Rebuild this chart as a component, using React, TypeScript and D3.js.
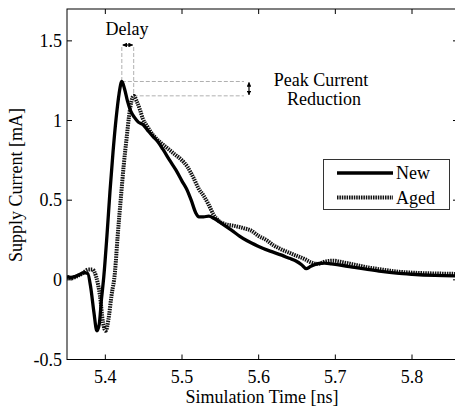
import React from 'react';
import * as d3 from 'd3';

// Time [ns] and supply current [mA]
const newTime = [5.35, 5.355, 5.36, 5.365, 5.372, 5.377, 5.381, 5.385, 5.389, 5.392, 5.395, 5.398, 5.402, 5.406, 5.41, 5.414, 5.418, 5.4215, 5.425, 5.429, 5.433, 5.438, 5.443, 5.449, 5.455, 5.462, 5.468, 5.475, 5.484, 5.492, 5.5, 5.506, 5.512, 5.518, 5.522, 5.528, 5.535, 5.542, 5.553, 5.565, 5.575, 5.585, 5.6, 5.615, 5.63, 5.64, 5.648, 5.656, 5.662, 5.668, 5.676, 5.686, 5.695, 5.71, 5.725, 5.74, 5.76, 5.78, 5.8, 5.83, 5.86];
const newCurrent = [0.02, 0.015, 0.02, 0.03, 0.045, 0.04, -0.05, -0.2, -0.32, -0.28, -0.12, 0.02, 0.27, 0.55, 0.8, 1.01, 1.17, 1.245, 1.2, 1.12, 1.06, 1.02, 0.99, 0.975, 0.94, 0.9, 0.87, 0.82, 0.75, 0.69, 0.62, 0.57, 0.5, 0.42, 0.395, 0.395, 0.4, 0.385, 0.35, 0.31, 0.275, 0.245, 0.21, 0.18, 0.155, 0.135, 0.12, 0.095, 0.07, 0.085, 0.1, 0.105, 0.1, 0.09, 0.078, 0.067, 0.053, 0.042, 0.035, 0.028, 0.025];

const agedTime = [5.35, 5.356, 5.362, 5.37, 5.378, 5.383, 5.388, 5.393, 5.397, 5.4005, 5.404, 5.408, 5.4126, 5.416, 5.42, 5.424, 5.428, 5.431, 5.434, 5.437, 5.441, 5.445, 5.449, 5.455, 5.462, 5.47, 5.48, 5.49, 5.5, 5.507, 5.515, 5.522, 5.528, 5.535, 5.541, 5.548, 5.556, 5.567, 5.58, 5.59, 5.6, 5.61, 5.62, 5.63, 5.64, 5.65, 5.66, 5.668, 5.677, 5.687, 5.697, 5.71, 5.725, 5.74, 5.76, 5.78, 5.8, 5.83, 5.86];
const agedCurrent = [0.02, 0.01, 0.02, 0.04, 0.065, 0.065, 0.02, -0.1, -0.27, -0.32, -0.25, -0.1, 0.05, 0.27, 0.5, 0.72, 0.9, 1.03, 1.12, 1.155, 1.12, 1.07, 1.01, 0.96, 0.91, 0.87, 0.83, 0.79, 0.75, 0.71, 0.64, 0.57, 0.53, 0.47, 0.41, 0.37, 0.35, 0.34, 0.325, 0.31, 0.275, 0.25, 0.215, 0.19, 0.17, 0.15, 0.13, 0.11, 0.1, 0.115, 0.12, 0.11, 0.095, 0.08, 0.065, 0.052, 0.045, 0.04, 0.037];

const xTicks = [5.4, 5.5, 5.6, 5.7, 5.8];
const yTicks = [-0.5, 0, 0.5, 1, 1.5];
const yTickLabels = ['-0.5', '0', '0.5', '1', '1.5'];
const legendLabels = ['New', 'Aged'];

// peaks used by the annotations
const newPeak = { t: 5.4215, v: 1.245 };
const agedPeak = { t: 5.437, v: 1.155 };

const W = 455;
const H = 409;
const margin = { left: 67, top: 9, right: 458, bottom: 359.5 };
const FONT = '"Liberation Serif", "Times New Roman", serif';
const FS = 18;

export default function App() {
    const x = d3.scaleLinear().domain([5.35, 5.86]).range([margin.left, margin.right]);
    const y = d3.scaleLinear().domain([-0.5, 1.7]).range([margin.bottom, margin.top]);

    const line = d3.line<[number, number]>()
        .x(d => x(d[0]))
        .y(d => y(d[1]))
        .curve(d3.curveMonotoneX);

    const newPts = newTime.map((t, i) => [t, newCurrent[i]] as [number, number]);
    const agedPts = agedTime.map((t, i) => [t, agedCurrent[i]] as [number, number]);

    const tickLen = 5;
    const annotTop = 47;
    const annotRight = 244;
    const nx = x(newPeak.t), ny = y(newPeak.v);
    const ax = x(agedPeak.t), ay = y(agedPeak.v);
    const dash = { stroke: '#b0b0b0', strokeWidth: 1, strokeDasharray: '4,2', fill: 'none' };

    return (
        <svg width={W} height={H} style={{ position: 'absolute', left: 0, top: 0, background: '#fff' }} fontFamily={FONT}>
            <defs>
                <clipPath id="plot-clip">
                    <rect x={margin.left} y={margin.top} width={margin.right - margin.left} height={margin.bottom - margin.top} />
                </clipPath>
                <marker id="arr" viewBox="0 0 10 10" refX="9" refY="5" markerWidth="4" markerHeight="4" orient="auto-start-reverse">
                    <path d="M0,0 L10,5 L0,10 z" fill="#000" />
                </marker>
            </defs>

            {/* axes frame */}
            <rect x={margin.left} y={margin.top} width={margin.right - margin.left} height={margin.bottom - margin.top}
                fill="none" stroke="#000" strokeWidth={1} />

            {xTicks.map(t => (
                <g key={'x' + t}>
                    <line x1={x(t)} x2={x(t)} y1={margin.bottom} y2={margin.bottom - tickLen} stroke="#000" />
                    <line x1={x(t)} x2={x(t)} y1={margin.top} y2={margin.top + tickLen} stroke="#000" />
                    <text x={x(t)} y={383} fontSize={FS} textAnchor="middle">{t.toFixed(1)}</text>
                </g>
            ))}
            {yTicks.map((v, i) => (
                <g key={'y' + v}>
                    <line x1={margin.left} x2={margin.left + tickLen} y1={y(v)} y2={y(v)} stroke="#000" />
                    <line x1={margin.right} x2={margin.right - tickLen} y1={y(v)} y2={y(v)} stroke="#000" />
                    <text x={62} y={y(v) + 6} fontSize={FS} textAnchor="end">{yTickLabels[i]}</text>
                </g>
            ))}

            <text x={262} y={403} fontSize={FS} textAnchor="middle">Simulation Time [ns]</text>
            <text transform={`translate(22, 185) rotate(-90)`} fontSize={FS} textAnchor="middle">Supply Current [mA]</text>

            {/* annotations */}
            <line x1={nx} x2={nx} y1={annotTop} y2={ny} style={dash} />
            <line x1={ax} x2={ax} y1={annotTop} y2={ay} style={dash} />
            <line x1={nx} x2={annotRight} y1={ny} y2={ny} style={dash} />
            <line x1={ax} x2={annotRight} y1={ay} y2={ay} style={dash} />
            <line x1={nx + 1} x2={ax - 1} y1={45} y2={45} stroke="#000" strokeWidth={1.2}
                markerStart="url(#arr)" markerEnd="url(#arr)" />
            <line x1={249} x2={249} y1={ny + 1} y2={ay - 1} stroke="#000" strokeWidth={1.2}
                markerStart="url(#arr)" markerEnd="url(#arr)" />
            <text x={127} y={35} fontSize={FS} textAnchor="middle">Delay</text>
            <text x={321} y={86} fontSize={FS} textAnchor="middle">Peak Current</text>
            <text x={324} y={105} fontSize={FS} textAnchor="middle">Reduction</text>

            {/* curves */}
            <g clipPath="url(#plot-clip)">
                <path d={line(agedPts) || ''} fill="none" stroke="#111" strokeWidth={4} strokeDasharray="1.5,0.9" />
                <path d={line(newPts) || ''} fill="none" stroke="#000" strokeWidth={3.3} strokeLinejoin="round" />
            </g>

            {/* legend */}
            <rect x={323.5} y={159.5} width={126} height={50} fill="#fff" stroke="#333" strokeWidth={1} />
            <line x1={337} x2={393} y1={173} y2={173} stroke="#000" strokeWidth={3.3} />
            <line x1={337} x2={393} y1={197.5} y2={197.5} stroke="#111" strokeWidth={4} strokeDasharray="1.5,0.9" />
            <text x={396} y={179} fontSize={FS}>{legendLabels[0]}</text>
            <text x={396} y={203.5} fontSize={FS}>{legendLabels[1]}</text>
        </svg>
    );
}
